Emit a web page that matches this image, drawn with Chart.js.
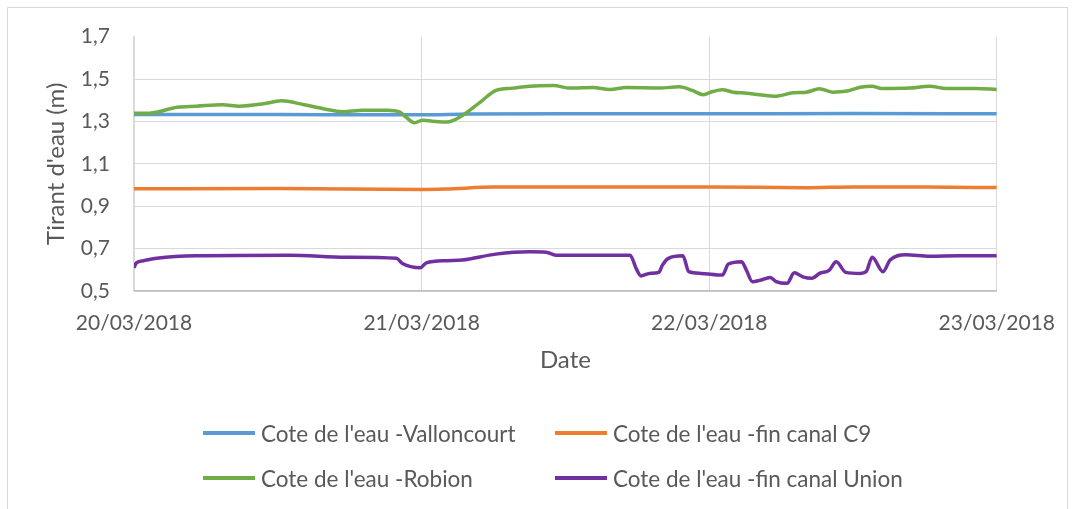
<!DOCTYPE html>
<html>
<head>
<meta charset="utf-8">
<script src="https://cdn.jsdelivr.net/npm/chart.js@4/dist/chart.umd.min.js"></script>
<style>
  body { margin: 0; background: #fff; }
  #wrap { position: relative; width: 1075px; height: 509px; overflow: hidden; }
  #frame { position: absolute; left: 7px; top: 7px; width: 1061px; height: 520px; border: 1px solid #D9D9D9; box-sizing: border-box; }
  #chart { position: absolute; left: 0; top: 0; }
  #legend { position: absolute; left: 203px; top: 418px; font-family: Lato, sans-serif; font-size: 22.5px; color: #595959;
            display: grid; grid-template-columns: 352px 360px; row-gap: 15px; }
  .item { display: flex; align-items: center; height: 30px; white-space: nowrap; }
  .swatch { display: inline-block; width: 52px; height: 3.5px; margin-right: 6px; }
</style>
</head>
<body>
<div id="wrap">
  <div id="frame"></div>
  <canvas id="chart" width="1075" height="509"></canvas>
  <div id="legend"></div>
</div>
<script>
// x values are hours since 20/03/2018 00:00
const dateLabels = ['20/03/2018', '21/03/2018', '22/03/2018', '23/03/2018'];
const yTickLabels = ['0,5', '0,7', '0,9', '1,1', '1,3', '1,5', '1,7'];
const seriesNames = ["Cote de l'eau -Valloncourt", "Cote de l'eau -fin canal C9", "Cote de l'eau -Robion", "Cote de l'eau -fin canal Union"];
const seriesColors = ['#5B9BD5', '#ED7D31', '#70AD47', '#7030A0'];

const hoursValloncourt = [0, 12, 24, 28, 36, 48, 60, 72];
const valuesValloncourt = [1.333, 1.332, 1.331, 1.335, 1.336, 1.336, 1.337, 1.336];

const hoursC9 = [0, 12, 24, 26, 30, 36, 48, 56, 60, 66, 72];
const valuesC9 = [0.982, 0.983, 0.979, 0.981, 0.990, 0.991, 0.991, 0.987, 0.991, 0.990, 0.988];

const hoursRobion = [0, 1.3, 3.6, 5.2, 7.4, 8.8, 10.8, 12.3, 14.1, 15.8, 17.4, 19.1, 21.1, 22.2, 22.7,
  23.4, 24.1, 24.9, 26.1, 27.4, 28.9, 30.2, 31.6, 33, 35, 36.4, 38.3, 39.7, 41.1, 43.9,
  45.5, 46.6, 47.5, 48.3, 49.1, 50, 51.1, 52.2, 53.6, 55, 56.1, 57.2, 58.3, 59.5, 60.6,
  61.6, 62.4, 64.7, 66.4, 67.8, 70.3, 72];
const valuesRobion = [1.339, 1.339, 1.367, 1.372, 1.379, 1.372, 1.383, 1.397, 1.380, 1.360, 1.346, 1.353, 1.353, 1.344, 1.320,
  1.294, 1.305, 1.301, 1.297, 1.328, 1.391, 1.446, 1.457, 1.466, 1.469, 1.457, 1.460, 1.451, 1.460, 1.458,
  1.463, 1.446, 1.426, 1.441, 1.449, 1.438, 1.433, 1.426, 1.419, 1.435, 1.438, 1.454, 1.438, 1.443, 1.461,
  1.466, 1.455, 1.457, 1.466, 1.455, 1.455, 1.451];

const hoursUnion = [0, 0.2, 0.8, 1.9, 5.2, 13, 17.7, 21.9, 22.4, 23.9, 24.4, 26.1, 27.4, 30.2, 33,
  34.4, 35.2, 41.4, 41.9, 42.3, 43, 43.8, 44.1, 44.6, 45.8, 46.3, 47.3, 49.1, 49.6, 50.7,
  51.1, 51.6, 52.2, 53.1, 53.6, 54.5, 55.1, 55.8, 56.6, 57.2, 58, 58.6, 59.4, 60.6, 61.1,
  61.6, 62.5, 63.1, 64.4, 66.4, 68.9, 72];
const valuesUnion = [0.610, 0.633, 0.643, 0.654, 0.666, 0.669, 0.659, 0.654, 0.630, 0.610, 0.633, 0.643, 0.646, 0.674, 0.685,
  0.683, 0.669, 0.669, 0.607, 0.571, 0.583, 0.588, 0.622, 0.654, 0.666, 0.591, 0.583, 0.575, 0.627, 0.638,
  0.599, 0.544, 0.550, 0.564, 0.544, 0.536, 0.586, 0.567, 0.560, 0.583, 0.597, 0.638, 0.588, 0.583, 0.591,
  0.659, 0.591, 0.646, 0.671, 0.664, 0.666, 0.666];

const allHours = [hoursValloncourt, hoursC9, hoursRobion, hoursUnion];
const allValues = [valuesValloncourt, valuesC9, valuesRobion, valuesUnion];

const datasets = seriesNames.map(function(name, i) {
    return {
        label: name,
        data: allHours[i].map(function(h, j) { return { x: h, y: allValues[i][j] }; }),
        borderColor: seriesColors[i],
        backgroundColor: seriesColors[i],
        borderWidth: 3.5,
        pointRadius: 0,
        cubicInterpolationMode: 'monotone',
        order: 3 - i,
    };
});

const ctx = document.getElementById('chart');
const chart = new Chart(ctx, {
    type: 'line',
    data: { datasets: datasets },
    options: {
        responsive: false,
        animation: false,
        layout: { padding: { left: 0, top: 36, right: 78, bottom: 134 } },
        scales: {
            x: {
                type: 'linear',
                min: 0,
                max: 72,
                afterFit: function(scale) { scale.height = 84; },
                ticks: {
                    stepSize: 24,
                    autoSkip: false,
                    maxRotation: 0,
                    padding: 20,
                    color: '#595959',
                    font: { family: 'Lato', size: 21 },
                    callback: function(value, index) { return dateLabels[index]; }
                },
                grid: { color: '#D9D9D9', lineWidth: 1, drawTicks: false },
                border: { color: '#BFBFBF', width: 1.5 },
                title: {
                    display: true,
                    text: 'Date',
                    color: '#595959',
                    font: { family: 'Lato', size: 24 },
                    padding: 0
                }
            },
            y: {
                min: 0.5,
                max: 1.7,
                afterFit: function(scale) { scale.width = 134; },
                ticks: {
                    stepSize: 0.2,
                    padding: 24,
                    color: '#595959',
                    font: { family: 'Lato', size: 21 },
                    callback: function(value, index) { return yTickLabels[index]; }
                },
                grid: {
                    drawTicks: false,
                    color: function(c) { return c.tick && c.tick.value >= 1.69 ? 'rgba(0,0,0,0)' : '#D9D9D9'; }
                },
                border: { color: '#D9D9D9', width: 1.5 },
                title: {
                    display: true,
                    text: "Tirant d'eau (m)",
                    color: '#595959',
                    font: { family: 'Lato', size: 24 },
                    padding: { top: 42, bottom: 0 }
                }
            }
        },
        plugins: {
            legend: { display: false },
            tooltip: { enabled: false }
        }
    }
});

// legend as html, two columns like the original
const legendEl = document.getElementById('legend');
seriesNames.forEach(function(name, i) {
    const item = document.createElement('div');
    item.className = 'item';
    const sw = document.createElement('span');
    sw.className = 'swatch';
    sw.style.background = seriesColors[i];
    item.appendChild(sw);
    item.appendChild(document.createTextNode(name));
    legendEl.appendChild(item);
});
</script>
</body>
</html>
